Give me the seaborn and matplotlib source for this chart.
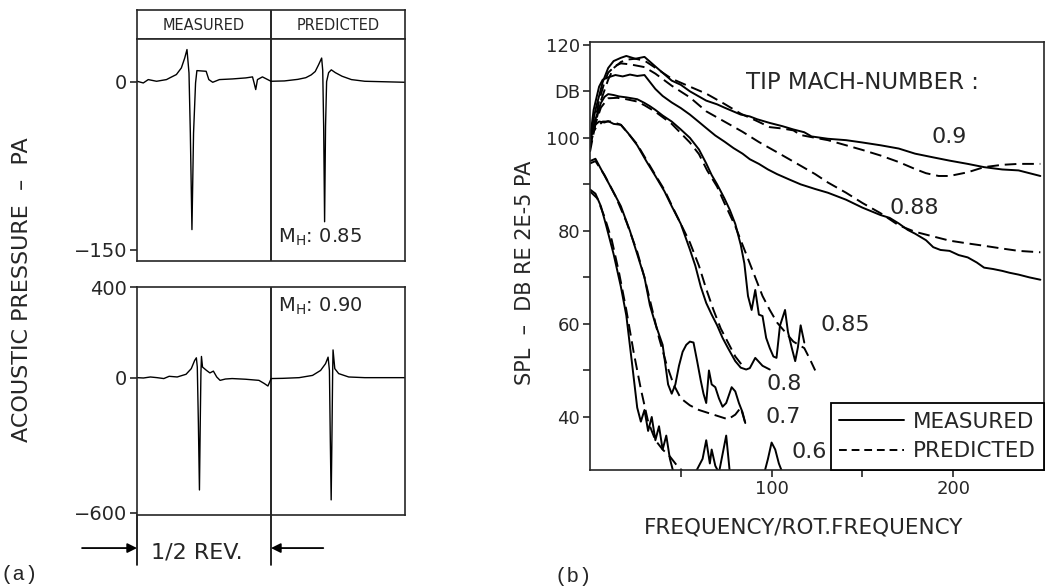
import numpy as np
import pandas as pd
import matplotlib
matplotlib.use("Agg")
import matplotlib.pyplot as plt
import seaborn as sns
from matplotlib.lines import Line2D

# ---- (a) pressure signatures: position inside half revolution (0..1), pressure in Pa
t_meas_085 = [0.0, 0.047, 0.084, 0.146, 0.22, 0.244, 0.294, 0.331, 0.356, 0.373, 0.388, 0.398,
              0.41, 0.422, 0.437, 0.447, 0.516, 0.536, 0.565, 0.615, 0.714, 0.812, 0.862, 0.874,
              0.886, 0.899, 0.936, 1.0]
p_meas_085 = [0.3, -1.2, 1.8, 0.3, 1.8, 3.3, 6.3, 12.2, 21, 28.6, 7.7, -45.8,
              -132, -45.8, -1.2, 9.8, 9.2, 1.8, -0.6, 1.8, 2.4, 3.3, 4.2, -1.2,
              -7.1, 1.8, 4.2, 0.3]
t_pred_085 = [0.0, 0.1, 0.2, 0.26, 0.3, 0.33, 0.355, 0.378, 0.386, 0.393, 0.40, 0.407, 0.415,
              0.43, 0.45, 0.48, 0.53, 0.6, 0.7, 1.0]
p_pred_085 = [0.3, 0.6, 2.0, 3.5, 6.0, 9.0, 15, 21, 10, -40, -125, -40, 0,
              8, 10.5, 8, 4.8, 1.8, 0.3, -0.6]

t_meas_090 = [0.0, 0.048, 0.1, 0.15, 0.2, 0.24, 0.30, 0.366, 0.405, 0.43, 0.443, 0.45, 0.458,
              0.466, 0.472, 0.477, 0.481, 0.489, 0.519, 0.544, 0.57, 0.595, 0.62, 0.66, 0.71,
              0.81, 0.91, 0.95, 0.977, 1.0]
p_meas_090 = [0, -1.5, 3, 0, -4, 6, 3, 15, 40, 76, 88, 47, -200,
              -498, -200, 20, 94, 47, 32, 21, 29, 3, -12, -6, -4,
              -7, -12, -26, -37, -6]
t_pred_090 = [0.0, 0.088, 0.21, 0.31, 0.37, 0.407, 0.426, 0.436, 0.442, 0.449, 0.455, 0.46,
              0.463, 0.476, 0.505, 0.58, 0.70, 1.0]
p_pred_090 = [-4, -3, 0, 10, 32, 62, 91, 32, -250, -542, -250, 20,
              123, 40, 18, 3, 0, 0]

# ---- (b) spectra: frequency / rotational frequency, SPL in dB
f_meas_090 = [0, 3, 7, 10, 13, 17, 20, 25, 30, 37, 45, 50, 55, 64, 70, 74, 83, 88, 92, 99, 106,
              112, 118, 122, 131, 141, 150, 160, 170, 179, 189, 198, 208, 217, 227, 236, 248]
spl_meas_090 = [100, 106, 112, 115, 116.5, 117.2, 117.6, 117, 117.4, 115, 112.3, 111.4, 110, 108,
                107.2, 106.5, 105, 104.6, 104, 103.2, 102.5, 101.8, 101.2, 100.3, 99.8, 99.5, 99,
                98.4, 97.7, 96.6, 95.8, 95.1, 94.4, 93.7, 93.2, 93, 91.8]
f_pred_090 = [0, 3, 6, 10, 13, 17, 20, 25, 30, 37, 45, 55, 64, 74, 83, 92, 99, 106, 112, 116,
              124, 131, 141, 150, 160, 170, 179, 185, 192, 198, 208, 217, 227, 236, 248]
spl_pred_090 = [97, 103, 108, 112.5, 115, 116.3, 116.8, 117, 116.6, 114.8, 112.7, 111, 109.5,
                107.3, 105.2, 103.6, 102.3, 102, 101.6, 100.6, 100, 99.5, 98.4, 97.4, 96.2, 94.8,
                93.3, 92.4, 91.8, 91.8, 92.6, 93.7, 94.2, 94.4, 94.4]

f_meas_088 = [0, 2, 5, 7, 10, 14, 18, 22, 26, 30, 33, 36, 40, 45, 50, 55, 60, 64, 69, 74, 79,
              84, 88, 93, 98, 103, 110, 116, 124, 131, 141, 150, 160, 165, 170, 175, 179, 185,
              189, 193, 198, 203, 208, 213, 217, 222, 227, 231, 236, 242, 248]
spl_meas_088 = [99.8, 106, 111, 112.5, 113, 113.5, 113.2, 113.6, 113.3, 113.5, 112, 110.5, 109,
                107.6, 106.4, 105, 103.4, 102.1, 100.5, 99.2, 97.8, 96.6, 95.4, 94.4, 93.2, 92.2,
                91, 90, 89, 88.2, 86.7, 85, 83.4, 82.8, 81.6, 80.2, 79.4, 78, 76.5, 75.9, 75.7,
                74.8, 74.3, 73.2, 72.1, 71.8, 71.4, 71, 70.6, 70, 69.5]
f_pred_088 = [0, 3, 5, 8, 10, 14, 17, 22, 30, 36, 45, 55, 64, 74, 84, 93, 103, 116, 124, 131,
              141, 150, 160, 170, 179, 189, 198, 208, 217, 227, 236, 248]
spl_pred_088 = [98, 104, 108, 112, 114, 115.5, 116, 115.8, 115.2, 113.8, 111.2, 108.7, 105.7,
                103.5, 101.3, 99.1, 96.9, 94, 92.2, 90.4, 88.2, 86, 83.8, 81.2, 79.8, 78.8, 77.9,
                77.3, 76.8, 76.2, 75.7, 75.4]

f_meas_085 = [0, 3, 6, 8, 10, 13, 16, 20, 23, 26, 30, 33, 36, 40, 45, 50, 55, 60, 64, 67, 70,
              74, 77, 80, 83, 85, 87, 89, 91, 93, 95, 97, 99, 101, 102.7, 104.6, 107.4, 109,
              111, 113, 114.5, 116, 118]
spl_meas_085 = [100, 104, 107.5, 108.8, 109.4, 109.2, 108.9, 108.7, 108.5, 108.3, 107.5, 106.8,
                106, 104.8, 103.5, 101.8, 100, 97.5, 94.5, 92, 90, 87, 84.5, 81.5, 77, 73, 66,
                63, 67.3, 62, 61.7, 57, 54.8, 53, 52.7, 59.6, 63, 58.3, 55, 52, 55, 59.7, 56]
f_pred_085 = [0, 3, 6, 10, 15, 20, 26, 30, 36, 45, 55, 60, 64.5, 70, 74, 80, 84, 88, 92, 95, 99,
              103, 108, 112, 118, 121, 124]
spl_pred_085 = [98, 103, 106.5, 108.5, 108.6, 108.3, 107.8, 107, 105.6, 103, 99, 96.5, 93, 89.5,
                86, 81, 77, 73, 69, 66, 63, 60.3, 58, 56.2, 54.8, 52.5, 50]

f_meas_080 = [0, 2, 5, 8, 10, 13, 17, 21, 26, 31, 36, 41, 45, 50, 55, 58, 61, 64, 67, 70, 73,
              76, 80, 83, 86, 88, 91, 95, 99]
spl_meas_080 = [100, 102.5, 103.5, 103.3, 103.6, 103, 102.8, 101, 98.4, 95, 91.8, 88.5, 85.3,
                81.5, 76, 72.5, 68, 64.5, 62, 59.7, 57, 54.8, 52, 50.6, 50.2, 50.5, 52.7, 51, 50.2]
f_pred_080 = [0, 3, 7, 12, 17, 22, 26, 31, 36, 41, 45, 50, 55, 60, 64, 68, 72, 76, 80, 84]
spl_pred_080 = [100, 102, 103.5, 103.5, 102.8, 100.5, 98.6, 95.3, 92, 88.8, 85.5, 81.5, 77.5,
                72.5, 67.5, 63, 59, 56, 53, 51]

f_meas_070 = [0, 3, 7, 12, 17, 22, 26, 30, 33, 36, 40, 43, 45, 47, 49, 51, 53, 55, 57, 59, 61,
              62.5, 64, 65.5, 67, 69, 71, 73, 75, 78, 80, 82, 84, 85.5]
spl_meas_070 = [95, 95.5, 92.6, 89, 85.3, 80, 75, 70, 64, 60, 55.5, 47, 45, 47, 51, 54, 55.5,
                56.2, 56, 52, 47.8, 45, 43, 50, 47, 46.4, 44, 42.2, 43, 46.4, 45.5, 43, 41, 38.7]
f_pred_070 = [0, 3, 8, 14, 20, 26, 30, 34, 38, 42, 46, 50, 55, 60, 64, 68, 72, 76, 80, 83, 85.5]
spl_pred_070 = [94.5, 95, 92, 87.5, 82, 75.5, 70, 63.5, 57, 51.5, 47, 44, 42.5, 41.5, 41, 40.5,
                40, 39.5, 40.5, 42, 38.7]

f_meas_060 = [0, 3, 6, 9, 13, 17, 20, 23, 26, 28, 30, 32, 34, 36, 38, 40, 42, 44, 46, 48, 52,
              58, 62, 64, 66, 67, 69, 71, 73, 75, 77, 79, 96, 98, 100, 102, 104, 106]
spl_meas_060 = [88.9, 88, 85.3, 81, 75, 68, 61.8, 52, 42, 39, 41.5, 37, 40, 35, 38, 33, 36, 31,
                28, 28, 28, 28, 31, 35, 30, 33, 29.5, 28, 32, 36, 28, 28, 28, 31, 34.5, 33, 30, 28]
f_pred_060 = [0, 4, 8, 12, 16, 20, 24, 28, 32, 36, 40, 44, 48, 52]
spl_pred_060 = [88.5, 87, 83, 78, 71, 63, 54, 46, 39, 35, 33, 31.5, 29.5, 28]

mach_labels = ['0.9', '0.88', '0.85', '0.8', '0.7', '0.6']
label_pos = [(188, 100.2), (165, 85.0), (127, 59.7), (97, 47.1), (96.5, 40.0), (111, 32.5)]

sns.set_style("ticks")
plt.rcParams['font.family'] = ['DejaVu Sans']
plt.rcParams['axes.linewidth'] = 1.2
plt.rcParams['xtick.major.width'] = 1.2
plt.rcParams['ytick.major.width'] = 1.2

W, H = 1046, 588
fig = plt.figure(figsize=(W / 100, H / 100), dpi=100)


def px_axes(x0, y0, x1, y1):
    return fig.add_axes([x0 / W, 1 - y1 / H, (x1 - x0) / W, (y1 - y0) / H])


def curve(ax, x, y, dashed=False, lw=1.4):
    sns.lineplot(x=x, y=y, ax=ax, color='black', lw=lw, sort=False, estimator=None)
    line = ax.lines[-1]
    if dashed:
        line.set_dashes((6, 3))
    return line


# ---------------- panel (a)
ax_head = px_axes(137, 10, 405, 39)
ax_up = px_axes(137, 39, 405, 261)
ax_lo = px_axes(137, 287, 405, 515)

ax_head.set_xlim(0, 2)
ax_head.set_ylim(0, 1)
ax_head.set_xticks([])
ax_head.set_yticks([])
ax_head.axvline(1, color='black', lw=1.2)
ax_head.text(0.5, 0.45, 'MEASURED', ha='center', va='center', fontsize=10.5)
ax_head.text(1.5, 0.45, 'PREDICTED', ha='center', va='center', fontsize=10.5)

curve(ax_up, t_meas_085, p_meas_085, lw=1.0)
curve(ax_up, [1 + t for t in t_pred_085], p_pred_085, lw=1.0)
ax_up.set_xlim(0, 2)
ax_up.set_ylim(-160, 38)
ax_up.set_yticks([0, -150])
ax_up.set_yticklabels(['0', '\u2212150'])
ax_up.text(1.05, -139, r'$\mathregular{M_H}$: 0.85', fontsize=14, va='center')

curve(ax_lo, t_meas_090, p_meas_090, lw=1.0)
curve(ax_lo, [1 + t for t in t_pred_090], p_pred_090, lw=1.0)
ax_lo.set_xlim(0, 2)
ax_lo.set_ylim(-609, 402)
ax_lo.set_yticks([400, 0, -600])
ax_lo.set_yticklabels(['400', '0', '\u2212600'])
ax_lo.text(1.05, 318, r'$\mathregular{M_H}$: 0.90', fontsize=14, va='center')

for ax in (ax_up, ax_lo):
    ax.axvline(1, color='black', lw=1.2)
    ax.set_xticks([])
    ax.tick_params(axis='y', direction='out', length=5, labelsize=14, pad=2)
    ax.set_xlabel('')
    ax.set_ylabel('')

# half-revolution marker under the lower box
tr = ax_lo.get_xaxis_transform()
for xv in (0, 1):
    ax_lo.plot([xv, xv], [0, -0.22], transform=tr, color='black', lw=1.2, clip_on=False)
ax_lo.annotate('', xy=(0, -0.145), xytext=(-0.41, -0.145), xycoords=tr, textcoords=tr,
               arrowprops=dict(arrowstyle='-|>', color='black', lw=1.3, mutation_scale=14,
                               shrinkA=0, shrinkB=0), annotation_clip=False)
ax_lo.annotate('', xy=(1, -0.145), xytext=(1.39, -0.145), xycoords=tr, textcoords=tr,
               arrowprops=dict(arrowstyle='-|>', color='black', lw=1.3, mutation_scale=14,
                               shrinkA=0, shrinkB=0), annotation_clip=False)
ax_lo.text(0.45, -0.165, '1/2 REV.', transform=tr, ha='center', va='center', fontsize=16)

fig.text(22 / W, 1 - 290 / H, 'ACOUSTIC PRESSURE  \u2013  PA', rotation=90,
         ha='center', va='center', fontsize=16)

# ---------------- panel (b)
ax_sp = px_axes(590, 42, 1044, 470)
spectra = [
    (f_meas_090, spl_meas_090, f_pred_090, spl_pred_090),
    (f_meas_088, spl_meas_088, f_pred_088, spl_pred_088),
    (f_meas_085, spl_meas_085, f_pred_085, spl_pred_085),
    (f_meas_080, spl_meas_080, f_pred_080, spl_pred_080),
    (f_meas_070, spl_meas_070, f_pred_070, spl_pred_070),
    (f_meas_060, spl_meas_060, f_pred_060, spl_pred_060),
]
for fm, sm, fp, sp in spectra:
    curve(ax_sp, fm, sm)
    curve(ax_sp, fp, sp, dashed=True)

ax_sp.set_xlim(0, 250)
ax_sp.set_ylim(28.6, 120.6)
ax_sp.set_xticks([50, 100, 150, 200])
ax_sp.set_xticklabels(['', '100', '', '200'])
ax_sp.set_yticks([40, 50, 60, 70, 80, 90, 100, 110, 120])
ax_sp.set_yticklabels(['40', '', '60', '', '80', '', '100', 'DB', '120'])
ax_sp.tick_params(direction='out', length=5, labelsize=13, pad=2)
ax_sp.set_xlabel('')
ax_sp.set_ylabel('')

ax_sp.text(86, 112, 'TIP MACH-NUMBER :', fontsize=16.5, va='center')
for lab, (lx, ly) in zip(mach_labels, label_pos):
    ax_sp.text(lx, ly, lab, fontsize=16, va='center')

handles = [Line2D([], [], color='black', lw=1.4),
           Line2D([], [], color='black', lw=1.4, dashes=(4, 2.5))]
leg = ax_sp.legend(handles, ['MEASURED', 'PREDICTED'], loc='lower right', frameon=True,
                   fancybox=False, edgecolor='black', framealpha=1, borderaxespad=0,
                   handlelength=3.0, handletextpad=0.4, fontsize=15.5, borderpad=0.4,
                   labelspacing=0.45)
leg.get_frame().set_linewidth(1.3)

fig.text(525 / W, 1 - 273 / H, 'SPL  \u2013  DB RE 2E-5 PA', rotation=90,
         ha='center', va='center', fontsize=15)
fig.text(804 / W, 1 - 528 / H, 'FREQUENCY/ROT.FREQUENCY', ha='center', va='center',
         fontsize=15.5)

fig.text(0.0, 1 - 575 / H, '(a)', family='Liberation Mono', fontsize=15, va='center')
fig.text(555 / W, 1 - 577 / H, '(b)', family='Liberation Mono', fontsize=15, va='center')

fig.savefig('out.png', dpi=100)
